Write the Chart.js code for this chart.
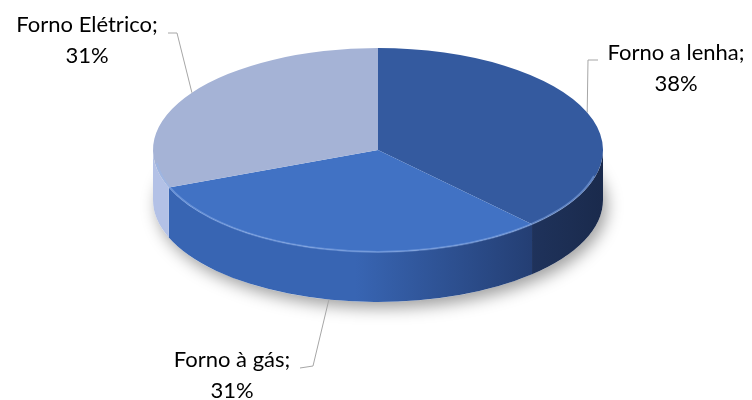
<!DOCTYPE html>
<html>
<head>
<meta charset="utf-8">
<script src="https://cdn.jsdelivr.net/npm/chart.js@4.4.1/dist/chart.umd.min.js"></script>
<style>
  html, body { margin: 0; padding: 0; background: #ffffff; }
  #wrap { width: 752px; height: 400px; position: relative; }
</style>
</head>
<body>
<div id="wrap"><canvas id="pie"></canvas></div>
<script>
const categories = ["Forno a lenha", "Forno à gás", "Forno Elétrico"];
const shares = [38, 31, 31];

// slice colours: top face, rim (left / right end of the gradient)
const TOP_COLORS = ["#345a9f", "#4172c4", "#a5b3d6"];
const RIM_LIGHT = ["#2a4781", "#3865b3", "#b3c1e6"];
const RIM_DARK = ["#1a2a4c", "#1c2f5a", "#8f9dca"];

// tilted disc geometry
const CENTER_X = 378;
const CENTER_Y = 150;
const RADIUS = 225;
const TILT = 0.453;
const DEPTH = 50;

// label boxes: centre x, first baseline, start + elbow of the leader line
const LABEL_BOXES = [
  { x: 676, y: 60, lead: [[598, 60], [588, 60]] },
  { x: 232, y: 367, lead: [[300, 368], [313, 366]] },
  { x: 87, y: 32, lead: [[168, 33], [177, 33]] }
];
const LINE_GAP = 31;
const LABEL_FONT = "22px Lato, 'Open Sans', sans-serif";

function frontParts(start, end) {
  // parts of [start, end] that face the viewer (0..PI in canvas angles)
  const parts = [];
  for (let k = -1; k <= 1; k++) {
    const lo = Math.max(start, 2 * Math.PI * k);
    const hi = Math.min(end, 2 * Math.PI * k + Math.PI);
    if (hi > lo) parts.push([lo, hi]);
  }
  return parts;
}

function ellipsePoint(angle, drop) {
  return [
    CENTER_X + RADIUS * Math.cos(angle),
    CENTER_Y + RADIUS * TILT * Math.sin(angle) + drop
  ];
}

const pie3d = {
  id: "pie3d",
  beforeDatasetsDraw(chart) {
    const ctx = chart.ctx;
    const arcs = chart.getDatasetMeta(0).data;
    const ry = RADIUS * TILT;

    ctx.save();

    // soft shadow under the disc
    ctx.save();
    ctx.shadowColor = "rgba(0,0,0,0.38)";
    ctx.shadowBlur = 16;
    ctx.shadowOffsetX = 4;
    ctx.shadowOffsetY = 6;
    ctx.fillStyle = "#ffffff";
    ctx.beginPath();
    ctx.ellipse(CENTER_X, CENTER_Y + DEPTH, RADIUS, ry, 0, 0, Math.PI * 2);
    ctx.fill();
    ctx.restore();

    // rim of every slice, front half only
    arcs.forEach((arc, i) => {
      frontParts(arc.startAngle, arc.endAngle).forEach(([a, b]) => {
        const grad = ctx.createLinearGradient(CENTER_X - RADIUS, 0, CENTER_X + RADIUS, 0);
        grad.addColorStop(0, RIM_LIGHT[i]);
        grad.addColorStop(0.45, RIM_LIGHT[i]);
        grad.addColorStop(1, RIM_DARK[i]);
        ctx.beginPath();
        ctx.ellipse(CENTER_X, CENTER_Y, RADIUS, ry, 0, a, b);
        ctx.ellipse(CENTER_X, CENTER_Y + DEPTH, RADIUS, ry, 0, b, a, true);
        ctx.closePath();
        ctx.fillStyle = grad;
        ctx.fill();
      });
    });

    // squash the flat pie into the top face
    const el = arcs[0];
    ctx.translate(CENTER_X, CENTER_Y);
    ctx.scale(1, TILT);
    ctx.translate(-el.x, -el.y);
  },
  afterDatasetsDraw(chart) {
    const ctx = chart.ctx;
    ctx.restore();

    // light bevel along the front edge of the top face
    ctx.save();
    ctx.strokeStyle = "rgba(150,185,240,0.45)";
    ctx.lineWidth = 2;
    ctx.beginPath();
    ctx.ellipse(CENTER_X, CENTER_Y + 1, RADIUS - 2, RADIUS * TILT - 1, 0, 0.25, Math.PI - 0.12);
    ctx.stroke();
    ctx.restore();
  },
  afterDraw(chart) {
    const ctx = chart.ctx;
    const arcs = chart.getDatasetMeta(0).data;
    const total = shares.reduce((s, v) => s + v, 0);

    ctx.save();
    ctx.font = LABEL_FONT;
    ctx.fillStyle = "#000000";
    ctx.textAlign = "center";
    ctx.textBaseline = "alphabetic";
    ctx.strokeStyle = "#a6a6a6";
    ctx.lineWidth = 1;

    arcs.forEach((arc, i) => {
      const box = LABEL_BOXES[i];
      const pct = Math.round(shares[i] / total * 100);
      ctx.fillText(categories[i] + ";", box.x, box.y);
      ctx.fillText(pct + "%", box.x, box.y + LINE_GAP);

      // leader line ends on the rim at the slice's middle angle
      const mid = (arc.startAngle + arc.endAngle) / 2;
      const front = Math.sin(mid) > 0;
      const end = ellipsePoint(mid, front ? DEPTH : 0);
      ctx.beginPath();
      ctx.moveTo(box.lead[0][0], box.lead[0][1]);
      ctx.lineTo(box.lead[1][0], box.lead[1][1]);
      ctx.lineTo(end[0], end[1]);
      ctx.stroke();
    });
    ctx.restore();
  }
};

new Chart(document.getElementById("pie"), {
  type: "pie",
  data: {
    labels: categories,
    datasets: [{
      data: shares,
      backgroundColor: TOP_COLORS,
      borderWidth: 0,
      radius: RADIUS,
      clip: false
    }]
  },
  options: {
    responsive: true,
    maintainAspectRatio: false,
    animation: false,
    layout: { padding: 0 },
    plugins: {
      legend: { display: false },
      tooltip: { enabled: false }
    }
  },
  plugins: [pie3d]
});
</script>
</body>
</html>
